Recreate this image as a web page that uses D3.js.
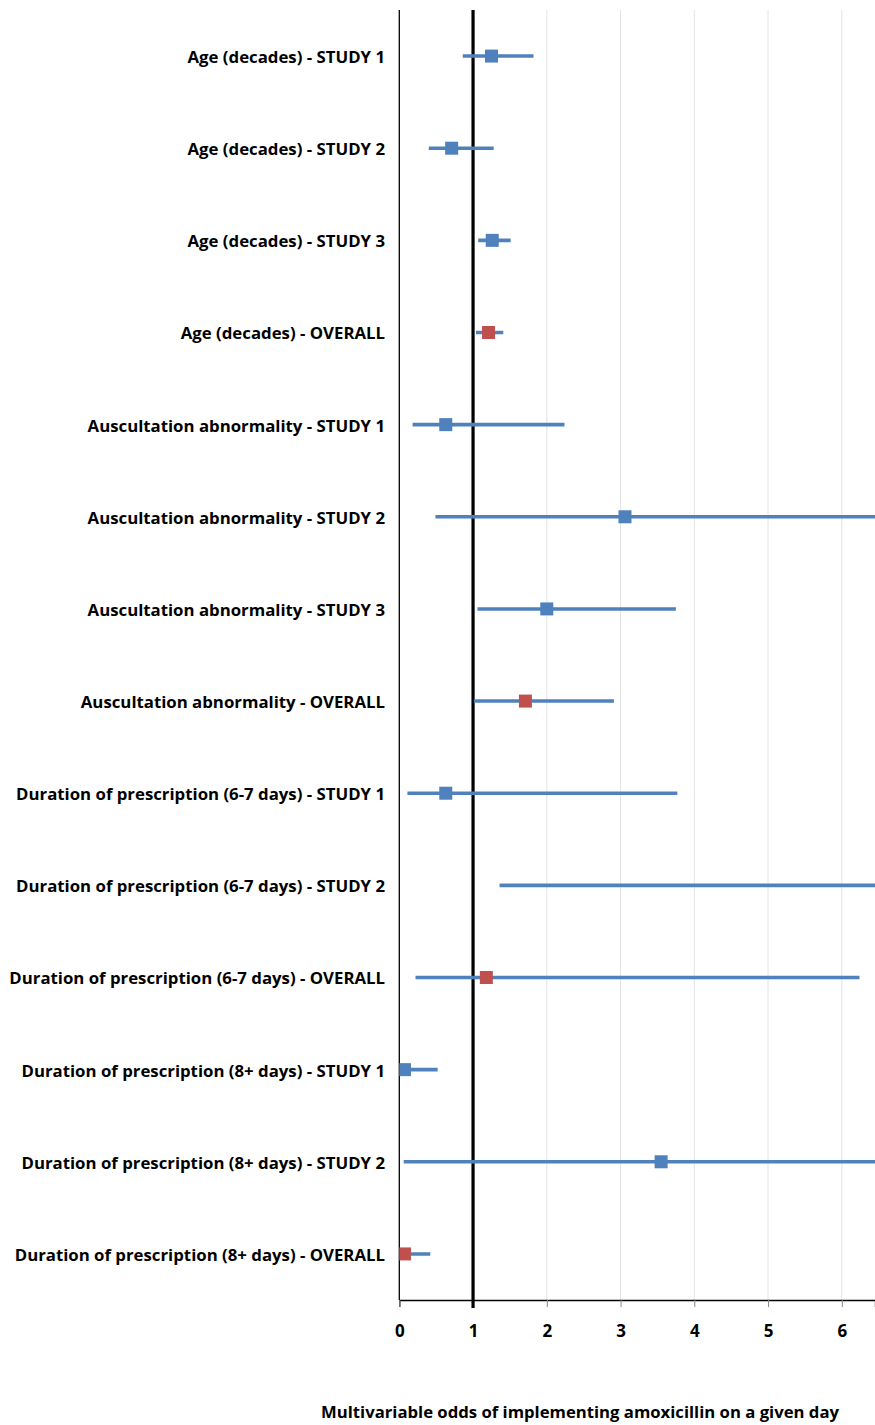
<!DOCTYPE html>
<html><head><meta charset="utf-8">
<script src="https://cdn.jsdelivr.net/npm/d3@7"></script>
<style>body{margin:0;background:#fff}svg{display:block}</style>
</head><body>
<script>
const categories = [
 "Age (decades) - STUDY 1","Age (decades) - STUDY 2","Age (decades) - STUDY 3","Age (decades) - OVERALL",
 "Auscultation abnormality - STUDY 1","Auscultation abnormality - STUDY 2","Auscultation abnormality - STUDY 3","Auscultation abnormality - OVERALL",
 "Duration of prescription (6-7 days) - STUDY 1","Duration of prescription (6-7 days) - STUDY 2","Duration of prescription (6-7 days) - OVERALL",
 "Duration of prescription (8+ days) - STUDY 1","Duration of prescription (8+ days) - STUDY 2","Duration of prescription (8+ days) - OVERALL"];
const odds  = [1.25,0.71,1.26,1.21, 0.63,3.06,2.0,1.71, 0.63,8.5,1.18, 0.07,3.55,0.07];
const lower = [0.86,0.40,1.07,1.04, 0.18,0.49,1.06,1.01, 0.11,1.36,0.22, 0.01,0.06,0.01];
const upper = [1.82,1.28,1.51,1.41, 2.24,12.0,3.75,2.91, 3.77,50.0,6.24, 0.52,12.0,0.42];
const isOverall = [0,0,0,1, 0,0,0,1, 0,0,1, 0,0,1];
const xTicks = [0,1,2,3,4,5,6];
const xTitle = "Multivariable odds of implementing amoxicillin on a given day";

const W=875,H=1425, pLeft=399.3, pRight=875, pTop=10, pBottom=1300;
const svg=d3.select("body").append("svg").attr("width",W).attr("height",H);
const x=d3.scaleLinear().domain([0,6.45]).range([pLeft,pRight]);
const y=d3.scaleBand().domain(categories).range([pTop,pBottom]);
const font="'Open Sans', sans-serif";

svg.append("defs").append("clipPath").attr("id","clip").append("rect")
  .attr("x",pLeft).attr("y",pTop-10).attr("width",pRight-pLeft).attr("height",pBottom-pTop+20);

// gridlines
svg.append("g").selectAll("line").data(xTicks.filter(d=>d>=2)).join("line")
  .attr("x1",d=>x(d)).attr("x2",d=>x(d)).attr("y1",pTop).attr("y2",pBottom)
  .attr("stroke","#e3e3e3").attr("stroke-width",1);

// x axis
const xa=svg.append("g").attr("transform",`translate(0,${pBottom})`)
  .call(d3.axisBottom(x).tickValues(xTicks).tickSize(7).tickPadding(18).tickFormat(d3.format("d")));
xa.select(".domain").attr("stroke","#000").attr("stroke-width",1.3);
xa.selectAll(".tick line").attr("stroke","#888");
xa.selectAll("text").attr("font-family",font).attr("font-weight","bold").attr("font-size",17).attr("fill","#000");

// left axis line
svg.append("line").attr("x1",pLeft).attr("x2",pLeft).attr("y1",pTop).attr("y2",pBottom).attr("stroke","#000").attr("stroke-width",1.3);

// reference line at 1
svg.append("line").attr("x1",x(1)).attr("x2",x(1)).attr("y1",pTop).attr("y2",pBottom+8).attr("stroke","#000").attr("stroke-width",3.2);

// labels
svg.append("g").selectAll("text").data(categories).join("text")
  .attr("x",385).attr("y",d=>y(d)+y.bandwidth()/2+1).attr("dy","0.35em")
  .attr("text-anchor","end").attr("font-family",font).attr("font-weight","bold").attr("font-size",16.8)
  .attr("fill","#000").text(d=>d);

const g=svg.append("g").attr("clip-path","url(#clip)");
g.selectAll("line.ci").data(categories).join("line").attr("class","ci")
  .attr("x1",(d,i)=>x(lower[i])).attr("x2",(d,i)=>x(upper[i]))
  .attr("y1",d=>y(d)+y.bandwidth()/2).attr("y2",d=>y(d)+y.bandwidth()/2)
  .attr("stroke","#4f81bd").attr("stroke-width",3.6);
const ms=13;
g.selectAll("rect.pt").data(categories).join("rect").attr("class","pt")
  .attr("x",(d,i)=>x(odds[i])-ms/2).attr("y",d=>y(d)+y.bandwidth()/2-ms/2)
  .attr("width",ms).attr("height",ms)
  .attr("fill",(d,i)=>isOverall[i]?"#c0504d":"#4f81bd");

svg.append("text").attr("x",580).attr("y",1418).attr("text-anchor","middle")
  .attr("font-family",font).attr("font-weight","bold").attr("font-size",16.7).text(xTitle);
</script>
</body></html>
